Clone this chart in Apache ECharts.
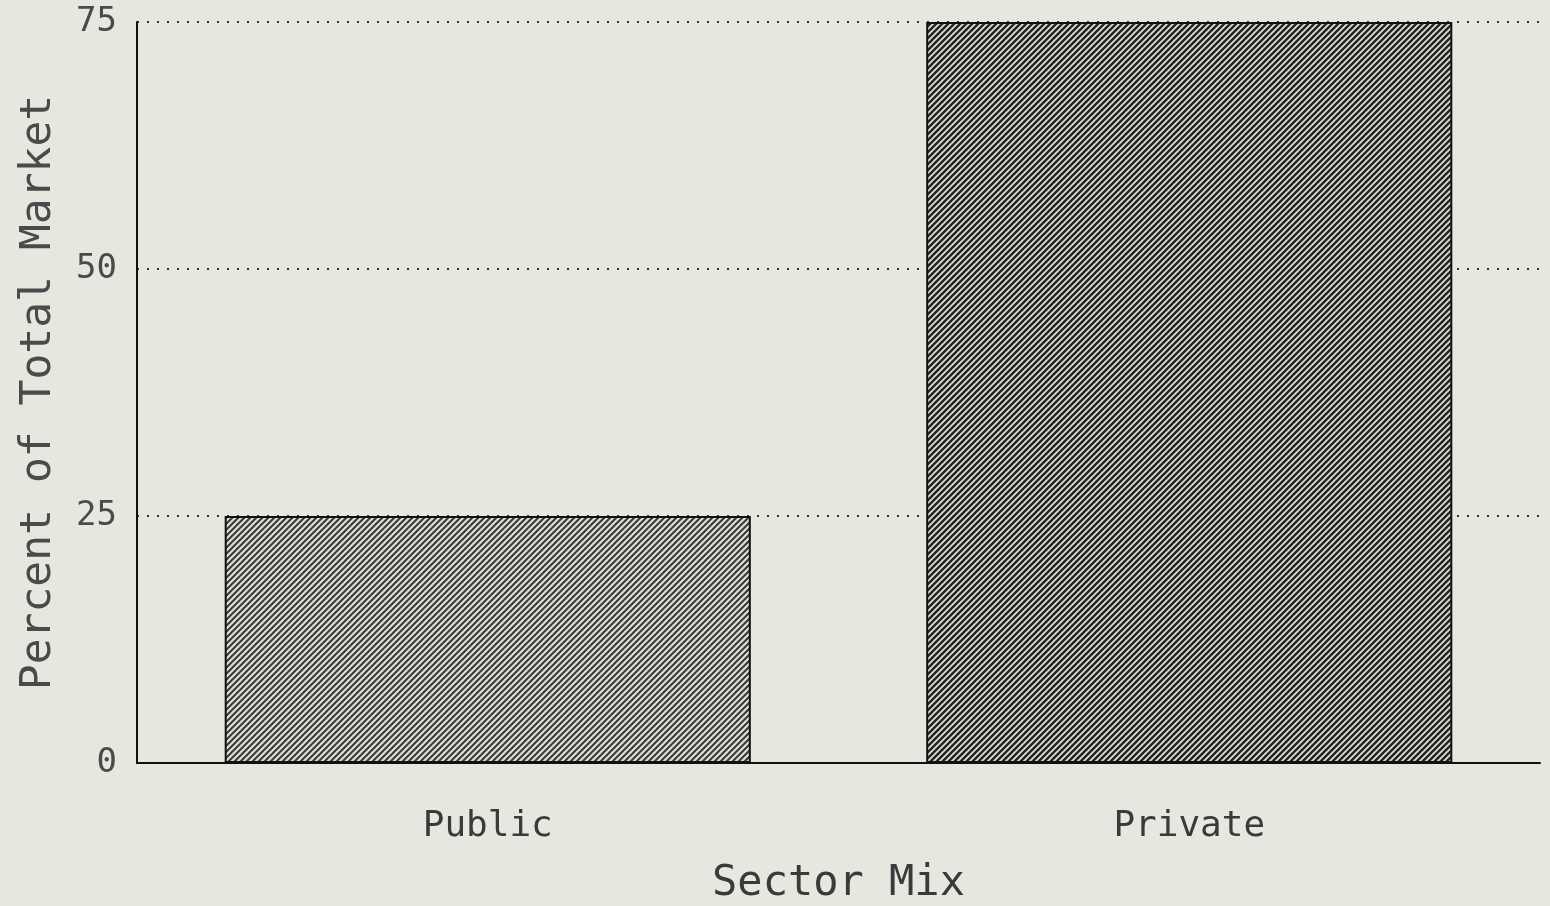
<!DOCTYPE html>
<html>
<head>
<meta charset="utf-8">
<script src="https://cdn.jsdelivr.net/npm/echarts@6/dist/echarts.min.js"></script>
<style>
  html, body { margin: 0; padding: 0; background: #e7e7e0; }
  #sectorMix { width: 1550px; height: 906px; }
</style>
</head>
<body>
<div id="sectorMix"></div>
<script>
var categories = ["Public", "Private"];
var shares = [25, 75];
var yMin = 0;
var yMax = 75;
var yStep = 25;

// little tile with "/" strokes, used as bar fill
function hatch(size, lineColor, lineWidth) {
  var c = document.createElement("canvas");
  c.width = size;
  c.height = size;
  var ctx = c.getContext("2d");
  ctx.fillStyle = "#e2e2da";
  ctx.fillRect(0, 0, size, size);
  ctx.strokeStyle = lineColor;
  ctx.lineWidth = lineWidth;
  ctx.beginPath();
  ctx.moveTo(-1, size + 1);
  ctx.lineTo(size + 1, -1);
  ctx.moveTo(-1, 1);
  ctx.lineTo(1, -1);
  ctx.moveTo(size - 1, size + 1);
  ctx.lineTo(size + 1, size - 1);
  ctx.stroke();
  return c;
}

function sectorMix() {
  var chartDom = document.getElementById("sectorMix");
  var myChart = echarts.init(chartDom, null, { renderer: "canvas" });
  var font = "'DejaVu Sans Mono', 'Liberation Mono', monospace";
  var fills = [hatch(6, "#3c3c3c", 2.2), hatch(6, "#262626", 2.6)];
  var option;

  option = {
    backgroundColor: "#e7e7e0",
    animation: false,
    grid: {
      left: 137,
      right: 10,
      top: 22,
      bottom: 143,
      containLabel: false,
      outerBoundsMode: "none",
    },
    xAxis: {
      type: "category",
      data: categories,
      name: "Sector Mix",
      nameLocation: "middle",
      nameGap: 100,
      nameMoveOverlap: false,
      nameTextStyle: { fontFamily: font, fontSize: 42, color: "#3a3a3a" },
      axisLine: { show: true, lineStyle: { color: "#111", width: 2 } },
      axisTick: { show: false },
      axisLabel: {
        margin: 46,
        fontFamily: font,
        fontSize: 36,
        color: "#3a3a3a",
      },
    },
    yAxis: {
      type: "value",
      min: yMin,
      max: yMax,
      interval: yStep,
      name: "Percent of Total Market",
      nameLocation: "middle",
      nameGap: 77,
      nameMoveOverlap: false,
      nameTextStyle: { fontFamily: font, fontSize: 43, color: "#4a4a4a" },
      axisLine: { show: true, lineStyle: { color: "#111", width: 2 } },
      axisTick: { show: false },
      axisLabel: {
        margin: 20,
        fontFamily: font,
        fontSize: 34,
        color: "#4a4a4a",
      },
      splitLine: {
        show: true,
        lineStyle: { color: "#333", width: 2, type: [2, 8] },
      },
    },
    series: [
      {
        type: "bar",
        barWidth: "75%",
        data: shares.map(function (v, i) {
          return {
            value: v,
            itemStyle: {
              color: { image: fills[i], repeat: "repeat" },
              borderColor: "#111",
              borderWidth: 2,
            },
          };
        }),
      },
    ],
  };
  option && myChart.setOption(option);
}

sectorMix();
</script>
</body>
</html>
